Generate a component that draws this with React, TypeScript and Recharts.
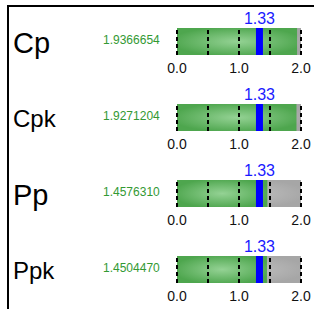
import { BarChart, Bar, XAxis, YAxis, ReferenceLine } from "recharts";

const metrics = ["Cp", "Cpk", "Pp", "Ppk"];
const values = [1.9366654, 1.9271204, 1.457631, 1.450447];
const target = 1.33;
const axisDomain = [0, 2];
const axisTicks = [0, 1, 2];
const guides = [0, 0.5, 1, 1.5, 2];

const FONT = "'Liberation Sans', Arial, sans-serif";

function NameTick(props: any) {
  const { y, payload } = props;
  const i = metrics.indexOf(payload.value);
  const big = payload.value.length > 2 ? 24 : 29;
  return (
    <g>
      <text x={13} y={y + 1} fontSize={big} fill="#000" dominantBaseline="central" fontFamily={FONT}>
        {payload.value}
      </text>
      <text x={103} y={y - 2} fontSize={12} fill="#339933" dominantBaseline="central" fontFamily={FONT}>
        {values[i].toFixed(7)}
      </text>
    </g>
  );
}

function Row({ idx }: { idx: number }) {
  const data = [{ name: metrics[idx], value: values[idx] }];
  return (
    <div style={{ position: "absolute", left: 0, top: 8 + idx * 76 }}>
      <BarChart
        width={314}
        height={76}
        data={data}
        layout="vertical"
        barCategoryGap={0}
        margin={{ top: 20, right: 13, bottom: 0, left: 0 }}
        style={{ fontFamily: FONT }}
      >
        <defs>
          <radialGradient id={`green-${idx}`} cx="50%" cy="50%" r="55%">
            <stop offset="0%" stopColor="#94d294" />
            <stop offset="100%" stopColor="#4ea64e" />
          </radialGradient>
          <radialGradient id={`grey-${idx}`} cx="50%" cy="50%" r="55%">
            <stop offset="0%" stopColor="#c2c2c2" />
            <stop offset="100%" stopColor="#a6a6a6" />
          </radialGradient>
        </defs>
        <XAxis
          type="number"
          domain={axisDomain}
          ticks={axisTicks}
          tickFormatter={(v: number) => v.toFixed(1)}
          axisLine={false}
          tickLine={false}
          height={29}
          tick={{ fontSize: 14, fill: "#111" }}
          interval={0}
        />
        <YAxis type="category" dataKey="name" width={177} axisLine={false} tickLine={false} tick={<NameTick />} />
        <Bar
          dataKey="value"
          fill={`url(#green-${idx})`}
          background={{ fill: `url(#grey-${idx})` }}
          isAnimationActive={false}
        />
        {guides.map((g) => (
          <ReferenceLine key={g} x={g} stroke="#000" strokeWidth={2} strokeDasharray="4 3" />
        ))}
        <ReferenceLine
          x={target}
          stroke="#0000ff"
          strokeWidth={7}
          label={{ value: target.toFixed(2), position: "top", offset: 4, fill: "#1a1aff", fontSize: 16 }}
        />
      </BarChart>
    </div>
  );
}

export default function App() {
  return (
    <div style={{ position: "absolute", left: 0, top: 0, width: 314, height: 309, background: "#fff", fontFamily: FONT }}>
      <div
        style={{
          position: "absolute",
          left: 7,
          top: 5,
          width: 307,
          height: 304,
          borderTop: "2px solid #000",
          borderLeft: "2px solid #000",
          boxSizing: "border-box",
        }}
      />
      {metrics.map((m, i) => (
        <Row key={m} idx={i} />
      ))}
    </div>
  );
}
